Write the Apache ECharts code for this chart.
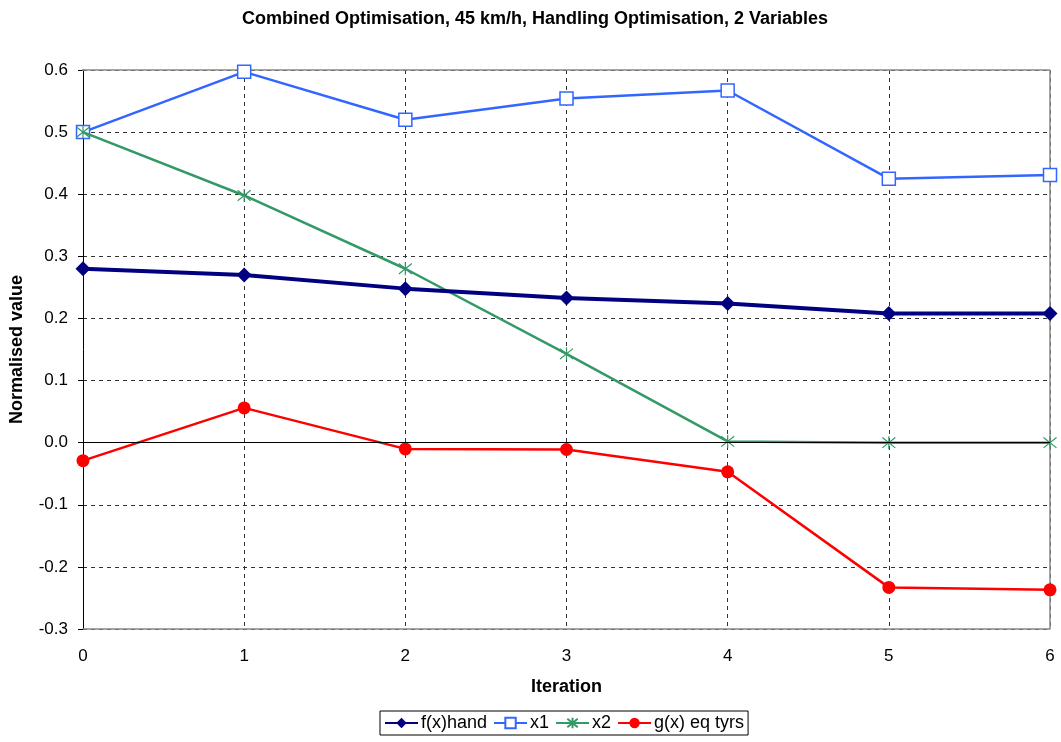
<!DOCTYPE html>
<html>
<head>
<meta charset="utf-8">
<script src="https://cdn.jsdelivr.net/npm/echarts@6/dist/echarts.min.js"></script>
<style>html,body{margin:0;padding:0;background:#fff;}#c{width:1061px;height:742px;}</style>
</head>
<body>
<div id="c"></div>
<script>
var categories = ['0', '1', '2', '3', '4', '5', '6'];
var fxHand = [0.280, 0.270, 0.248, 0.233, 0.224, 0.208, 0.208];
var x1 = [0.500, 0.597, 0.520, 0.554, 0.567, 0.425, 0.431];
var x2 = [0.500, 0.398, 0.280, 0.143, 0.002, 0.000, 0.000];
var gx = [-0.029, 0.056, -0.010, -0.011, -0.047, -0.233, -0.237];

var font = 'Liberation Sans, Arial, sans-serif';
var chart = echarts.init(document.getElementById('c'), null, {renderer: 'canvas'});
var asterisk = 'path://M0,-1 L0,1 M-0.8,-0.8 L0.8,0.8 M-0.8,0.8 L0.8,-0.8';
chart.setOption({
  animation: false,
  backgroundColor: '#ffffff',
  title: {
    text: 'Combined Optimisation, 45 km/h, Handling Optimisation, 2 Variables',
    left: 530, top: 5, textAlign: 'center',
    textStyle: {fontFamily: font, fontSize: 18, fontWeight: 'bold', color: '#000'}
  },
  legend: {
    left: 380, top: 711,
    data: ['f(x)hand', 'x1', 'x2', 'g(x) eq tyrs'],
    borderColor: '#000', borderWidth: 1, borderRadius: 0,
    padding: [3, 4, 3, 4],
    itemGap: 6, itemWidth: 33, itemHeight: 13,
    textStyle: {fontFamily: font, fontSize: 18, color: '#000', padding: [0, 0, 0, -2]}
  },
  grid: {left: 82, right: 11, top: 70, bottom: 113, show: false},
  xAxis: {
    type: 'category', data: categories, boundaryGap: false,
    name: 'Iteration', nameLocation: 'middle', nameGap: 49,
    nameTextStyle: {fontFamily: font, fontSize: 18, fontWeight: 'bold', color: '#000'},
    axisLine: {onZero: false, lineStyle: {color: '#888', width: 1.5}},
    axisTick: {show: false},
    axisLabel: {fontFamily: font, fontSize: 17, color: '#000', margin: 19},
    splitLine: {show: true, lineStyle: {color: '#333', type: [4, 4], width: 1}}
  },
  yAxis: {
    type: 'value', min: -0.3, max: 0.6, interval: 0.1,
    name: 'Normalised value', nameLocation: 'middle', nameGap: 57,
    nameTextStyle: {fontFamily: font, fontSize: 18, fontWeight: 'bold', color: '#000'},
    axisLine: {show: true, lineStyle: {color: '#000', width: 1}},
    axisTick: {show: true, length: 5, lineStyle: {color: '#000'}},
    axisLabel: {fontFamily: font, fontSize: 17, color: '#000', margin: 15,
      formatter: function (v) { return (Math.round(v * 10) / 10).toFixed(1); }},
    splitLine: {show: true, lineStyle: {color: '#333', type: [4, 4], width: 1}}
  },
  series: [
    {
      name: 'f(x)hand', type: 'line', data: fxHand,
      symbol: 'diamond', symbolSize: 15, showAllSymbol: true,
      lineStyle: {color: '#000080', width: 4},
      itemStyle: {color: '#000080'}, z: 5,
      markLine: {
        silent: true, symbol: 'none', label: {show: false},
        lineStyle: {color: '#000', type: 'solid', width: 1},
        data: [{yAxis: 0}]
      }
    },
    {
      name: 'x1', type: 'line', data: x1,
      symbol: 'rect', symbolSize: 13, showAllSymbol: true,
      lineStyle: {color: '#3366FF', width: 2.5},
      itemStyle: {color: '#ffffff', borderColor: '#3366FF', borderWidth: 1.5}, z: 3
    },
    {
      name: 'x2', type: 'line', data: x2,
      symbol: asterisk, symbolSize: 13, showAllSymbol: true,
      lineStyle: {color: '#339966', width: 2.5},
      itemStyle: {color: 'none', borderColor: '#339966', borderWidth: 1.2}, z: 4
    },
    {
      name: 'g(x) eq tyrs', type: 'line', data: gx,
      symbol: 'circle', symbolSize: 13, showAllSymbol: true,
      lineStyle: {color: '#FF0000', width: 2.5},
      itemStyle: {color: '#FF0000'}, z: 4
    }
  ],
  graphic: [
    {type: 'line', shape: {x1: 82, y1: 70, x2: 1050, y2: 70}, style: {stroke: '#888', lineWidth: 1.5}, z: 1},
    {type: 'line', shape: {x1: 1050, y1: 70, x2: 1050, y2: 629}, style: {stroke: '#888', lineWidth: 1.5}, z: 1}
  ]
});
</script>
</body>
</html>
